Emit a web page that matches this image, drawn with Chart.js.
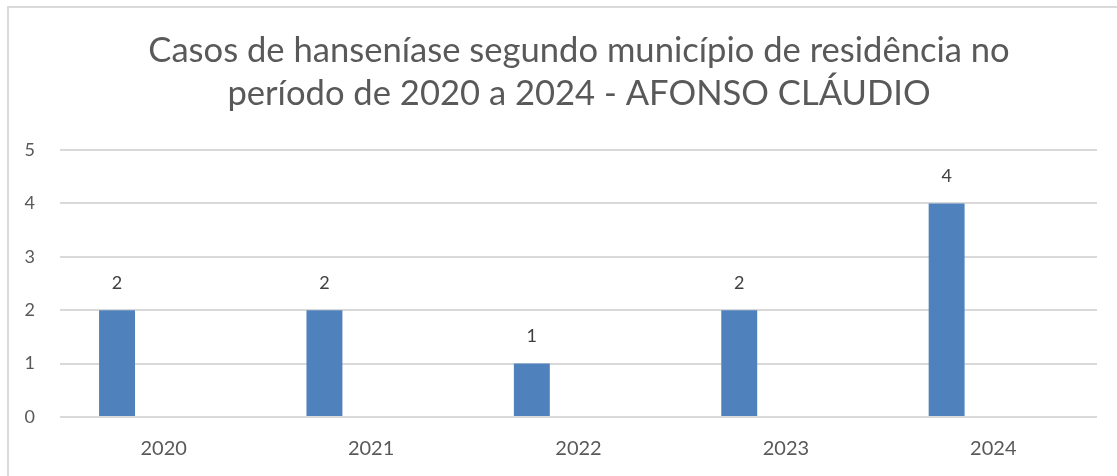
<!DOCTYPE html>
<html>
<head>
<meta charset="utf-8">
<script src="https://cdn.jsdelivr.net/npm/chart.js@4.4.1/dist/chart.umd.min.js"></script>
<style>
  html, body { margin: 0; padding: 0; background: #ffffff; overflow: hidden; }
  #wrap { position: absolute; left: 0; top: 0; width: 1117px; height: 476px; }
  #frame { position: absolute; left: 7px; top: 6px; width: 1120px; height: 480px;
           border-left: 2px solid #d9d9d9; border-top: 2px solid #d9d9d9; pointer-events: none; }
</style>
</head>
<body>
<div id="wrap"><canvas id="c" width="1117" height="476"></canvas></div>
<div id="frame"></div>
<script>
const categories = ["2020", "2021", "2022", "2023", "2024"];
const casos = [2, 2, 1, 2, 4];
const vazio = [null, null, null, null, null];
const yTicks = [0, 1, 2, 3, 4, 5];
const titleLines = ["Casos de hanseníase segundo município de residência no", "período de 2020 a 2024 - AFONSO CLÁUDIO"];

const FONT = "Lato, 'Open Sans', sans-serif";

const titleDraw = {
  id: 'titleDraw',
  afterDraw(chart) {
    const ctx = chart.ctx;
    ctx.save();
    ctx.font = "34.6px " + FONT;
    ctx.fillStyle = "#595959";
    ctx.textAlign = "center";
    ctx.textBaseline = "alphabetic";
    const baselines = [62, 105];
    titleLines.forEach((line, i) => ctx.fillText(line, 579, baselines[i]));
    ctx.restore();
  }
};

const valueLabels = {
  id: 'valueLabels',
  afterDatasetsDraw(chart) {
    const ctx = chart.ctx;
    const meta = chart.getDatasetMeta(0);
    ctx.save();
    ctx.font = "18px " + FONT;
    ctx.fillStyle = "#404040";
    ctx.textAlign = "center";
    ctx.textBaseline = "middle";
    meta.data.forEach((bar, i) => {
      const v = casos[i];
      if (v == null) return;
      ctx.fillText(String(v), bar.x, bar.y - 27);
    });
    ctx.restore();
  }
};

new Chart(document.getElementById('c'), {
  type: 'bar',
  data: {
    labels: categories,
    datasets: [
      { label: 'Casos', data: casos, backgroundColor: '#4f81bd', borderWidth: 0,
        categoryPercentage: 0.9, barPercentage: 0.385 },
      { label: '', data: vazio, backgroundColor: '#c0504d', borderWidth: 0,
        categoryPercentage: 0.9, barPercentage: 0.385 }
    ]
  },
  options: {
    responsive: false,
    animation: false,
    devicePixelRatio: 1,
    layout: { padding: { left: 0, right: 20, top: 150, bottom: 0 } },
    plugins: {
      legend: { display: false },
      tooltip: { enabled: false },
      title: { display: false }
    },
    scales: {
      x: {
        grid: { display: false, drawTicks: false },
        border: { display: false },
        ticks: { color: '#595959', font: { family: FONT, size: 20 }, padding: 20 },
        afterFit(scale) { scale.height = 59; }
      },
      y: {
        min: 0, max: 5,
        afterBuildTicks(scale) { scale.ticks = yTicks.map(v => ({ value: v })); },
        grid: { color: '#d9d9d9', lineWidth: 2, drawTicks: false },
        border: { display: false },
        ticks: { color: '#595959', font: { family: FONT, size: 18 }, padding: 25, align: 'center' },
        afterFit(scale) { scale.width = 60; }
      }
    }
  },
  plugins: [valueLabels, titleDraw]
});
</script>
</body>
</html>
